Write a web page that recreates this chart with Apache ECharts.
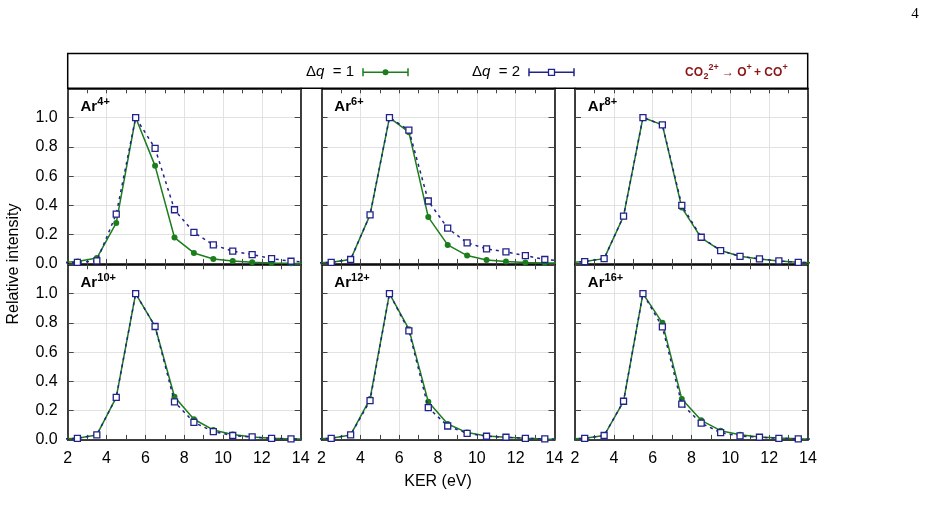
<!DOCTYPE html>
<html>
<head>
<meta charset="utf-8">
<script src="https://cdn.jsdelivr.net/npm/echarts@6/dist/echarts.min.js"></script>
<style>
  html, body { margin: 0; padding: 0; background: #fff; }
  #chart { width: 927px; height: 520px; }
</style>
</head>
<body>
<div id="chart"></div>
<script>
// KER bin centres (eV); the 1.5 and 14.5 bins fall outside the plotted range
const kerValues = [1.5, 2.5, 3.5, 4.5, 5.5, 6.5, 7.5, 8.5, 9.5, 10.5, 11.5, 12.5, 13.5, 14.5];

const panelLabels = ['4+', '6+', '8+', '10+', '12+', '16+'];

// Δq = 1 (green circles)
const ar4Dq1  = [0.008, 0.016, 0.04, 0.28, 1.0, 0.67, 0.18, 0.075, 0.034, 0.02, 0.011, 0.006, 0.004, 0.003];
const ar6Dq1  = [0.005, 0.011, 0.03, 0.335, 1.0, 0.9, 0.32, 0.13, 0.057, 0.027, 0.016, 0.01, 0.007, 0.005];
const ar8Dq1  = [0.008, 0.016, 0.036, 0.326, 1.0, 0.95, 0.385, 0.178, 0.091, 0.052, 0.034, 0.02, 0.011, 0.006];
const ar10Dq1 = [0.005, 0.011, 0.034, 0.29, 1.0, 0.775, 0.295, 0.141, 0.068, 0.037, 0.02, 0.011, 0.007, 0.004];
const ar12Dq1 = [0.005, 0.011, 0.034, 0.28, 1.0, 0.757, 0.26, 0.109, 0.05, 0.027, 0.018, 0.011, 0.007, 0.004];
const ar16Dq1 = [0.005, 0.011, 0.03, 0.264, 1.0, 0.80, 0.28, 0.134, 0.063, 0.035, 0.02, 0.013, 0.008, 0.005];

// Δq = 2 (blue squares)
const ar4Dq2  = [0.006, 0.011, 0.02, 0.34, 1.0, 0.79, 0.37, 0.215, 0.13, 0.087, 0.064, 0.036, 0.018, 0.012];
const ar6Dq2  = [0.005, 0.011, 0.03, 0.335, 1.0, 0.914, 0.43, 0.244, 0.144, 0.103, 0.082, 0.057, 0.03, 0.02];
const ar8Dq2  = [0.008, 0.016, 0.036, 0.326, 1.0, 0.95, 0.40, 0.182, 0.091, 0.052, 0.034, 0.02, 0.011, 0.006];
const ar10Dq2 = [0.005, 0.011, 0.034, 0.29, 1.0, 0.775, 0.26, 0.12, 0.057, 0.03, 0.02, 0.011, 0.007, 0.004];
const ar12Dq2 = [0.005, 0.011, 0.034, 0.268, 1.0, 0.745, 0.22, 0.095, 0.045, 0.025, 0.018, 0.011, 0.007, 0.004];
const ar16Dq2 = [0.005, 0.011, 0.03, 0.264, 1.0, 0.772, 0.245, 0.114, 0.05, 0.027, 0.018, 0.011, 0.007, 0.004];

const dq1Sets = [ar4Dq1, ar6Dq1, ar8Dq1, ar10Dq1, ar12Dq1, ar16Dq1];
const dq2Sets = [ar4Dq2, ar6Dq2, ar8Dq2, ar10Dq2, ar12Dq2, ar16Dq2];

const GREEN = '#1b7d1b';
const BLUE = '#22228c';
const RED = '#8b1414';
const FONT = 'Liberation Sans';

const colLefts = [67.7, 321.5, 575];
const rowTops = [88.3, 264.3];
const panelW = 233;
const panelH = 175.6;

function pairs(ys) {
    return kerValues.map((x, i) => [x, ys[i]]);
}

const grids = [];
const xAxes = [];
const yAxes = [];
const series = [];
const graphics = [];

for (let p = 0; p < 6; p++) {
    const row = Math.floor(p / 3);
    const col = p % 3;
    grids.push({ left: colLefts[col], top: rowTops[row], width: panelW, height: panelH });

    const frame = { show: true, onZero: false, lineStyle: { color: '#000', width: 1.5 } };
    const tick = { show: true, inside: true, length: 5, lineStyle: { color: '#444', width: 1 } };

    // bottom x axis
    xAxes.push({
        type: 'value', gridIndex: p, position: 'bottom',
        min: 2, max: 14, interval: 2,
        axisLine: frame,
        axisTick: tick,
        minorTick: { show: true, splitNumber: 2, length: 5, lineStyle: { color: '#444' } },
        splitLine: { show: true, lineStyle: { color: '#e2e2e2', width: 1 } },
        axisLabel: { show: row === 1, color: '#000', fontFamily: FONT, fontSize: 16, margin: 11 }
    });
    // top x axis (frame + ticks only)
    xAxes.push({
        type: 'value', gridIndex: p, position: 'top',
        min: 2, max: 14, interval: 2,
        axisLine: frame,
        axisTick: tick,
        minorTick: { show: true, splitNumber: 2, length: 5, lineStyle: { color: '#444' } },
        splitLine: { show: false },
        axisLabel: { show: false }
    });
    // left y axis
    yAxes.push({
        type: 'value', gridIndex: p, position: 'left',
        min: 0, max: 1.2, interval: 0.2,
        axisLine: frame,
        axisTick: { show: true, inside: true, length: 6, lineStyle: { color: '#444', width: 1 } },
        splitLine: { show: true, lineStyle: { color: '#e2e2e2', width: 1 } },
        axisLabel: {
            show: col === 0, color: '#000', fontFamily: FONT, fontSize: 16, margin: 10,
            formatter: v => (v > 1.1 ? '' : v.toFixed(1))
        }
    });
    // right y axis
    yAxes.push({
        type: 'value', gridIndex: p, position: 'right',
        min: 0, max: 1.2, interval: 0.2,
        axisLine: frame,
        axisTick: { show: true, inside: true, length: 6, lineStyle: { color: '#444', width: 1 } },
        splitLine: { show: false },
        axisLabel: { show: false }
    });

    series.push({
        type: 'line', name: 'dq1', xAxisIndex: 2 * p, yAxisIndex: 2 * p,
        data: pairs(dq1Sets[p]),
        symbol: 'circle', symbolSize: 6,
        itemStyle: { color: GREEN },
        lineStyle: { color: GREEN, width: 1.5 },
        z: 3, silent: true
    });
    series.push({
        type: 'line', name: 'dq2', xAxisIndex: 2 * p, yAxisIndex: 2 * p,
        data: pairs(dq2Sets[p]),
        symbol: 'rect', symbolSize: 6,
        itemStyle: { color: '#fff', borderColor: BLUE, borderWidth: 1.3 },
        lineStyle: { color: BLUE, width: 1.5, type: [3, 4] },
        z: 4, silent: true
    });

    // panel label Ar^q+
    const dy = row * 176;
    graphics.push({
        type: 'text', x: colLefts[col] + 12.8, y: 106.6 + dy,
        style: { text: 'Ar', fontFamily: FONT, fontWeight: 'bold', fontSize: 15, fill: '#000', align: 'left', verticalAlign: 'middle' },
        z: 10
    });
    graphics.push({
        type: 'text', x: colLefts[col] + 29.6, y: 102.2 + dy,
        style: { text: panelLabels[p], fontFamily: FONT, fontWeight: 'bold', fontSize: 11, fill: '#000', align: 'left', verticalAlign: 'middle' },
        z: 10
    });
}

// legend box
graphics.push({
    type: 'rect',
    shape: { x: 67.7, y: 53.5, width: 740, height: 34.8 },
    style: { fill: 'none', stroke: '#000', lineWidth: 1.5 },
    z: 10
});

function legendEntry(label, x0, x1, marker) {
    const y = 72.3;
    graphics.push({
        type: 'text', x: x0 - 9, y: y,
        style: {
            text: '{n|Δ}{i|q}{n|  = ' + label + '}',
            align: 'right', verticalAlign: 'middle',
            rich: {
                n: { fontFamily: FONT, fontSize: 15, fill: '#000' },
                i: { fontFamily: FONT, fontSize: 15, fontStyle: 'italic', fill: '#000' }
            }
        },
        z: 10
    });
    graphics.push({ type: 'line', shape: { x1: x0, y1: y, x2: x1, y2: y }, style: { stroke: marker.color, lineWidth: 1.5 }, z: 10 });
    graphics.push({ type: 'line', shape: { x1: x0, y1: y - 4, x2: x0, y2: y + 4 }, style: { stroke: marker.color, lineWidth: 1.5 }, z: 10 });
    graphics.push({ type: 'line', shape: { x1: x1, y1: y - 4, x2: x1, y2: y + 4 }, style: { stroke: marker.color, lineWidth: 1.5 }, z: 10 });
    const cx = (x0 + x1) / 2;
    if (marker.kind === 'circle') {
        graphics.push({ type: 'circle', shape: { cx: cx, cy: y, r: 3 }, style: { fill: marker.color }, z: 11 });
    } else {
        graphics.push({ type: 'rect', shape: { x: cx - 3, y: y - 3, width: 6, height: 6 }, style: { fill: '#fff', stroke: marker.color, lineWidth: 1.3 }, z: 11 });
    }
}
legendEntry('1', 363, 408, { kind: 'circle', color: GREEN });
legendEntry('2', 529, 574, { kind: 'rect', color: BLUE });

// reaction label, built from pieces so sub/superscripts sit right
function redText(str, x, y, size) {
    graphics.push({
        type: 'text', x: x, y: y,
        style: { text: str, fontFamily: FONT, fontWeight: 'bold', fontSize: size, fill: RED, align: 'left', verticalAlign: 'middle' },
        z: 10
    });
}
redText('CO', 685, 72.5, 12);
redText('2', 703.5, 76.5, 9);
redText('2+', 708.5, 67.5, 9);
redText('→ O', 722, 72.5, 12);
redText('+', 746.5, 68, 9);
redText('+ CO', 754, 72.5, 12);
redText('+', 782.5, 68, 9);

// axis titles
graphics.push({
    type: 'text', x: 13.5, y: 264, rotation: Math.PI / 2,
    style: { text: 'Relative intensity', fontFamily: FONT, fontSize: 16, fill: '#000', align: 'center', verticalAlign: 'middle' }
});
graphics.push({
    type: 'text', x: 438, y: 482,
    style: { text: 'KER (eV)', fontFamily: FONT, fontSize: 16, fill: '#000', align: 'center', verticalAlign: 'middle' }
});
// page number
graphics.push({
    type: 'text', x: 915, y: 14,
    style: { text: '4', fontFamily: 'Liberation Serif', fontSize: 15, fill: '#000', align: 'center', verticalAlign: 'middle' }
});

const chart = echarts.init(document.getElementById('chart'), null, { renderer: 'canvas' });
chart.setOption({
    animation: false,
    backgroundColor: '#fff',
    grid: grids,
    xAxis: xAxes,
    yAxis: yAxes,
    series: series,
    graphic: graphics
});
</script>
</body>
</html>
